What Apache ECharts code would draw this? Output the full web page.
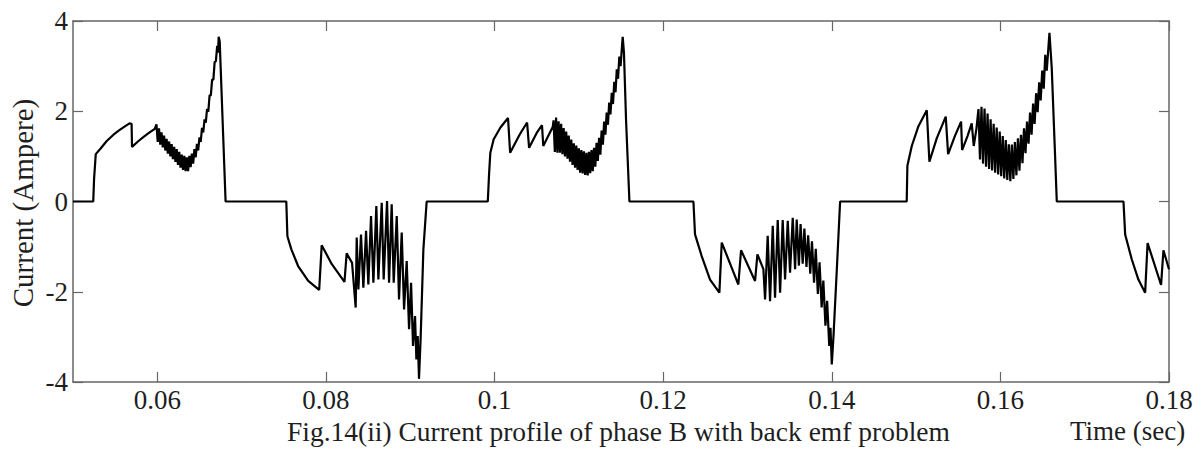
<!DOCTYPE html>
<html>
<head>
<meta charset="utf-8">
<script src="https://cdn.jsdelivr.net/npm/echarts@6/dist/echarts.min.js"></script>
<style>
html,body{margin:0;padding:0;background:#fff;}
#chart{width:1203px;height:452px;}
</style>
</head>
<body>
<div id="chart"></div>
<script>
// ---- Data (time in s, current in A) ----
const xTicks = [0.06, 0.08, 0.10, 0.12, 0.14, 0.16, 0.18];
const xTickLabels = ['0.06', '0.08', '0.1', '0.12', '0.14', '0.16', '0.18'];
const yTicks = [-4, -2, 0, 2, 4];

const segPos1Lead = [[0.05,0],[0.0524,0],[0.0525,0.5],[0.0527,1.05],[0.0533,1.18],[0.0540,1.34],[0.0548,1.48],[0.0555,1.58],[0.0562,1.67],[0.0567,1.73],[0.05695,1.72],[0.0570,1.21],[0.0577,1.33],[0.0583,1.42],[0.0590,1.52],[0.0597,1.61]];
const segPos1Band = [[0.05990,1.71],[0.06005,1.32],[0.06020,1.62],[0.06035,1.26],[0.06050,1.53],[0.06065,1.20],[0.06080,1.46],[0.06095,1.13],[0.06110,1.39],[0.06125,1.06],[0.06140,1.33],[0.06155,1.00],[0.06170,1.27],[0.06185,0.94],[0.06200,1.21],[0.06215,0.88],[0.06230,1.16],[0.06245,0.81],[0.06260,1.10],[0.06275,0.75],[0.06290,1.04],[0.06305,0.70],[0.06320,1.01],[0.06335,0.67],[0.06350,0.98],[0.06365,0.67],[0.06380,1.01],[0.06395,0.76],[0.06410,1.06],[0.06425,0.84],[0.06440,1.16],[0.06455,0.98],[0.06470,1.28],[0.06485,1.13],[0.06500,1.42],[0.06515,1.32],[0.06530,1.63],[0.06545,1.53],[0.06560,1.82],[0.06575,1.75],[0.06590,2.05],[0.06605,1.99],[0.06620,2.35],[0.06635,2.35],[0.06650,2.70],[0.06665,2.70],[0.06680,3.09],[0.06695,3.11],[0.06710,3.45],[0.06720,3.30],[0.06728,3.65],[0.0674,3.55],[0.0681,0]];
const segNeg1Lead = [[0.0753,0],[0.07543,-0.77],[0.0759,-1.06],[0.0767,-1.43],[0.0779,-1.76],[0.0792,-1.96],[0.0795,-0.97],[0.0807,-1.39],[0.0822,-1.78],[0.08246,-1.15],[0.0831,-1.36]];
const segNeg1Band = [[0.08353,-2.35],[0.08365,-0.80],[0.08385,-1.95],[0.08416,-0.73],[0.08444,-1.91],[0.08476,-0.65],[0.08503,-1.84],[0.08535,-0.32],[0.08563,-1.80],[0.08598,-0.10],[0.08622,-1.73],[0.08662,-0.03],[0.08685,-1.73],[0.08725,0.01],[0.08749,-1.80],[0.08780,-0.06],[0.08804,-1.80],[0.08840,-0.32],[0.08867,-2.17],[0.08899,-0.69],[0.08927,-2.39],[0.08958,-1.32],[0.08986,-2.83],[0.09010,-1.80],[0.09033,-3.20],[0.09057,-2.54],[0.09073,-3.50],[0.09089,-2.98],[0.09104,-3.93],[0.09124,-3.0],[0.09156,-1.06],[0.09195,0]];
const segPos2Lead = [[0.0992,0],[0.09935,0.6],[0.0995,1.08],[0.0999,1.38],[0.1007,1.64],[0.1016,1.85],[0.10185,1.08],[0.1030,1.49],[0.10386,1.75],[0.1041,1.19],[0.1050,1.52],[0.10563,1.69],[0.10578,1.23],[0.1065,1.50],[0.10690,1.65]];
const segPos2Band = [[0.10700,1.80],[0.10715,1.10],[0.10730,1.86],[0.10745,1.08],[0.10760,1.78],[0.10775,1.08],[0.10790,1.72],[0.10805,1.05],[0.10820,1.63],[0.10835,1.00],[0.10850,1.55],[0.10865,0.95],[0.10880,1.46],[0.10895,0.88],[0.10910,1.37],[0.10925,0.81],[0.10940,1.29],[0.10955,0.75],[0.10970,1.24],[0.10985,0.70],[0.11000,1.18],[0.11015,0.64],[0.11030,1.14],[0.11045,0.62],[0.11060,1.11],[0.11075,0.59],[0.11090,1.08],[0.11105,0.58],[0.11120,1.10],[0.11135,0.63],[0.11150,1.14],[0.11165,0.67],[0.11180,1.19],[0.11195,0.77],[0.11210,1.30],[0.11225,0.90],[0.11240,1.41],[0.11255,1.04],[0.11270,1.57],[0.11285,1.26],[0.11300,1.77],[0.11315,1.48],[0.11330,1.97],[0.11345,1.70],[0.11360,2.19],[0.11375,1.93],[0.11390,2.41],[0.11405,2.16],[0.11420,2.65],[0.11435,2.42],[0.11450,2.93],[0.11465,2.72],[0.11480,3.21],[0.11495,3.00],[0.11520,3.65],[0.11535,3.3],[0.1156,1.8],[0.1160,0]];
const segNeg2Lead = [[0.12359,0],[0.12378,-0.73],[0.12457,-1.21],[0.12556,-1.73],[0.12667,-2.02],[0.12695,-0.91],[0.12892,-1.84],[0.12924,-1.08],[0.13090,-1.76],[0.13118,-1.17],[0.13189,-1.50]];
const segNeg2Band = [[0.13209,-2.17],[0.13240,-0.76],[0.13268,-2.21],[0.13300,-0.54],[0.13327,-2.13],[0.13359,-0.41],[0.13387,-2.02],[0.13418,-0.41],[0.13446,-1.73],[0.13478,-0.43],[0.13505,-1.58],[0.13537,-0.36],[0.13565,-1.50],[0.13584,-0.40],[0.13610,-1.42],[0.13630,-0.50],[0.13655,-1.38],[0.13675,-0.60],[0.13700,-1.45],[0.13720,-0.75],[0.13745,-1.60],[0.13765,-0.88],[0.13790,-1.80],[0.13810,-1.05],[0.13835,-2.05],[0.13855,-1.35],[0.13880,-2.35],[0.13900,-1.75],[0.13925,-2.75],[0.13945,-2.20],[0.13970,-3.20],[0.13985,-2.80],[0.14000,-3.61],[0.14020,-3.0],[0.14060,-1.5],[0.14099,0]];
const segPos3Lead = [[0.14889,0],[0.14897,0.79],[0.14949,1.23],[0.15028,1.67],[0.15127,2.02],[0.15158,0.88],[0.15245,1.40],[0.15352,1.88],[0.15380,1.05],[0.15460,1.45],[0.15534,1.77],[0.15546,1.14],[0.15610,1.45],[0.15660,1.73],[0.15684,1.23],[0.15715,1.60]];
const segPos3Band = [[0.15740,2.05],[0.15758,0.93],[0.15776,2.10],[0.15794,0.84],[0.15812,2.06],[0.15830,0.77],[0.15848,1.95],[0.15866,0.72],[0.15884,1.82],[0.15902,0.69],[0.15920,1.72],[0.15938,0.64],[0.15956,1.64],[0.15974,0.60],[0.15992,1.55],[0.16010,0.56],[0.16028,1.45],[0.16046,0.51],[0.16064,1.36],[0.16082,0.48],[0.16100,1.27],[0.16118,0.45],[0.16136,1.26],[0.16154,0.50],[0.16172,1.32],[0.16190,0.58],[0.16208,1.40],[0.16226,0.68],[0.16244,1.48],[0.16262,0.85],[0.16280,1.62],[0.16298,1.07],[0.16316,1.77],[0.16334,1.28],[0.16352,1.97],[0.16370,1.48],[0.16388,2.17],[0.16406,1.72],[0.16424,2.40],[0.16442,1.98],[0.16460,2.64],[0.16478,2.24],[0.16496,2.90],[0.16514,2.50],[0.16532,3.25],[0.16550,2.90],[0.16582,3.74],[0.16609,2.97],[0.16649,1.0],[0.16669,0]];
const segNeg3 = [[0.17460,0],[0.17480,-0.73],[0.17558,-1.28],[0.17637,-1.73],[0.17717,-2.02],[0.17746,-0.92],[0.17906,-1.85],[0.17934,-1.08],[0.18,-1.50]];

const currentData = [].concat(segPos1Lead, segPos1Band, segNeg1Lead, segNeg1Band, segPos2Lead, segPos2Band, segNeg2Lead, segNeg2Band, segPos3Lead, segPos3Band, segNeg3);

// ---- Chart ----
const FONT = '"Liberation Serif", "Times New Roman", serif';
const frameColor = '#666';
const textColor = '#1e1e1e';
const chart = echarts.init(document.getElementById('chart'), null, {renderer: 'svg'});

function fmtX(v) {
  const i = xTicks.findIndex(t => Math.abs(t - v) < 1e-9);
  return i >= 0 ? xTickLabels[i] : '';
}

const frameLine = {show: true, onZero: false, lineStyle: {color: frameColor, width: 1.5}};
const tickStyle = {color: frameColor, width: 1.2};

chart.setOption({
  animation: false,
  backgroundColor: '#fff',
  grid: {left: 73, right: 34, top: 21, bottom: 70, containLabel: false},
  xAxis: [{
    type: 'value', position: 'bottom', min: 0.05, max: 0.18,
    axisLine: frameLine,
    axisTick: {show: true, inside: true, length: 10, customValues: xTicks, lineStyle: tickStyle},
    axisLabel: {show: true, customValues: xTicks, formatter: fmtX, fontFamily: FONT, fontSize: 27, color: textColor, margin: 6, lineHeight: 24},
    splitLine: {show: false}
  }, {
    type: 'value', position: 'top', min: 0.05, max: 0.18,
    axisLine: frameLine,
    axisTick: {show: true, inside: true, length: 10, customValues: xTicks, lineStyle: tickStyle},
    axisLabel: {show: false},
    splitLine: {show: false}
  }],
  yAxis: [{
    type: 'value', position: 'left', min: -4, max: 4, interval: 2,
    axisLine: frameLine,
    axisTick: {show: true, inside: true, length: 10, lineStyle: tickStyle},
    axisLabel: {show: true, fontFamily: FONT, fontSize: 27, color: textColor, margin: 5},
    splitLine: {show: false}
  }, {
    type: 'value', position: 'right', min: -4, max: 4, interval: 2,
    axisLine: frameLine,
    axisTick: {show: true, inside: true, length: 10, lineStyle: tickStyle},
    axisLabel: {show: false},
    splitLine: {show: false}
  }],
  graphic: [{
    type: 'text', x: 23, y: 203, rotation: Math.PI / 2,
    style: {text: 'Current (Ampere)', font: '29px ' + FONT, fill: textColor, align: 'center', verticalAlign: 'middle'}
  }, {
    type: 'text', x: 287, y: 431,
    style: {text: 'Fig.14(ii) Current profile of phase B with back emf problem', font: '27.5px ' + FONT, fill: textColor, align: 'left', verticalAlign: 'middle'}
  }, {
    type: 'text', x: 1070, y: 431,
    style: {text: 'Time (sec)', font: '27px ' + FONT, fill: textColor, align: 'left', verticalAlign: 'middle'}
  }],
  series: [{
    type: 'line', xAxisIndex: 0, yAxisIndex: 0,
    data: currentData,
    showSymbol: false, symbol: 'none',
    sampling: null,
    lineStyle: {color: '#000', width: 2.2},
    clip: true
  }]
});
</script>
</body>
</html>
